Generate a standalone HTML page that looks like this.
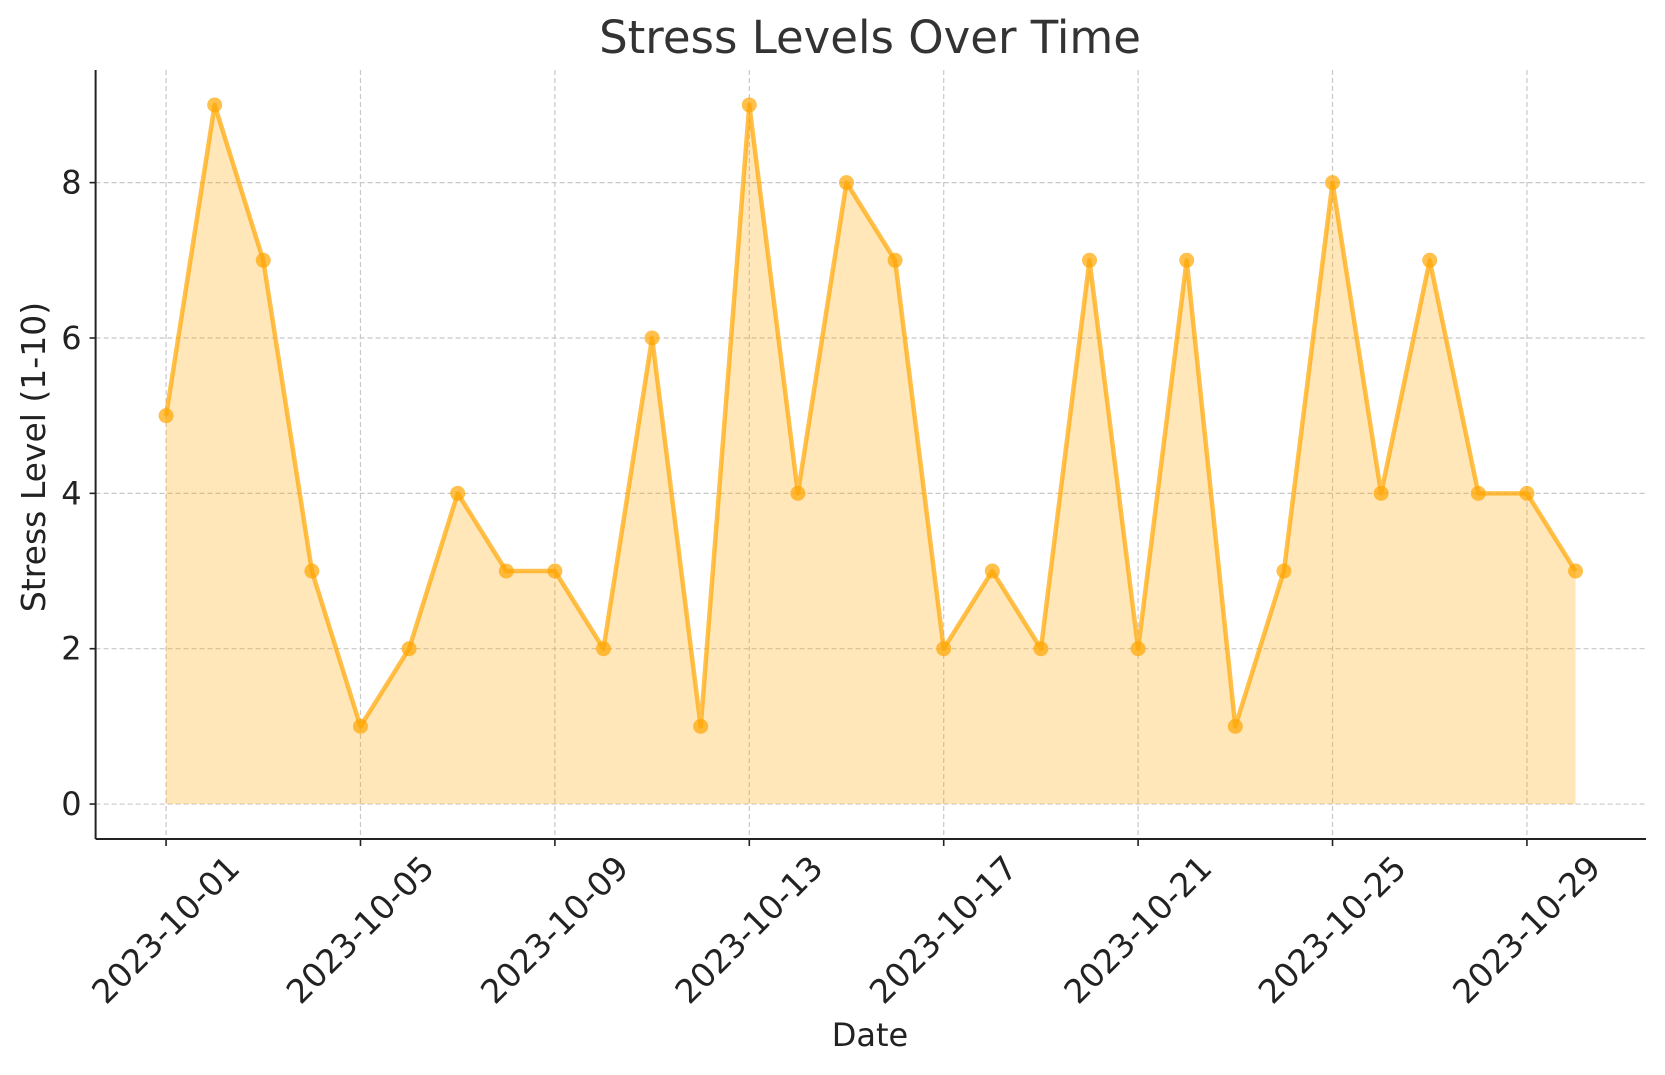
<!DOCTYPE html>
<html><head><meta charset="utf-8"><style>
html,body{margin:0;padding:0;background:#fff;}
svg{display:block;font-family:"DejaVu Sans","Liberation Sans",sans-serif;}
</style></head><body>
<svg id="chart" width="1665" height="1075" viewBox="0 0 1665 1075">
<text x="870" y="53" font-size="45" fill="#333" text-anchor="middle">Stress Levels Over Time</text>
<g id="grid"></g>
<g id="series"></g>
<g id="axes"></g>
<text x="870" y="1046" font-size="32" fill="#222" text-anchor="middle">Date</text>
<text transform="translate(45,457) rotate(-90)" font-size="33" fill="#222" text-anchor="middle">Stress Level (1-10)</text>
</svg>
<script>
const dates = ["2023-10-01","2023-10-02","2023-10-03","2023-10-04","2023-10-05","2023-10-06","2023-10-07","2023-10-08","2023-10-09","2023-10-10","2023-10-11","2023-10-12","2023-10-13","2023-10-14","2023-10-15","2023-10-16","2023-10-17","2023-10-18","2023-10-19","2023-10-20","2023-10-21","2023-10-22","2023-10-23","2023-10-24","2023-10-25","2023-10-26","2023-10-27","2023-10-28","2023-10-29","2023-10-30"];
const stress = [5,9,7,3,1,2,4,3,3,2,6,1,9,4,8,7,2,3,2,7,2,7,1,3,8,4,7,4,4,3];
const xTickLabels = ["2023-10-01","2023-10-05","2023-10-09","2023-10-13","2023-10-17","2023-10-21","2023-10-25","2023-10-29"];
const yTicks = [0,2,4,6,8];

const NS="http://www.w3.org/2000/svg";
const L=95.6,R=1646,T=70,B=839;
const xMin=-1.45,xMax=dates.length-1+1.45,yMin=-0.45,yMax=9.45;
const t0=new Date(dates[0]+"T00:00:00Z").getTime();
function dayIdx(d){return (new Date(d+"T00:00:00Z").getTime()-t0)/86400000;}
function xs(i){return L+(i-xMin)/(xMax-xMin)*(R-L);}
function ys(v){return B-(v-yMin)/(yMax-yMin)*(B-T);}
function mk(tag,attrs,parent){const e=document.createElementNS(NS,tag);for(const k in attrs)e.setAttribute(k,attrs[k]);parent.appendChild(e);return e;}
const grid=document.getElementById('grid'),series=document.getElementById('series'),axes=document.getElementById('axes');

yTicks.forEach(v=>{
  const g=mk('line',{x1:L,x2:R,y1:ys(v),y2:ys(v),stroke:'#c8c8c8','stroke-width':1.2,'stroke-dasharray':'5,3'},grid);
  
  
  const tk=mk('line',{x1:L-6,x2:L,y1:ys(v),y2:ys(v),stroke:'#222','stroke-width':1.6},axes);
  
  
  const t=mk('text',{x:L-14,y:ys(v)+11,'font-size':32,fill:'#222','text-anchor':'end'},axes);
  t.textContent=v;
  
  
});
xTickLabels.forEach(d=>{
  const x=xs(dayIdx(d));
  const g=mk('line',{x1:x,x2:x,y1:T,y2:B,stroke:'#c8c8c8','stroke-width':1.2,'stroke-dasharray':'5,3'},grid);
  
  
  const tk=mk('line',{x1:x,x2:x,y1:B,y2:B+7,stroke:'#222','stroke-width':1.6},axes);
  
  
  const t=mk('text',{x:0,y:11,'font-size':33,fill:'#222','text-anchor':'middle',transform:`translate(${x},930) rotate(-45)`},axes);
  t.textContent=d;
  
  
});
let pts=stress.map((v,i)=>[xs(dayIdx(dates[i])),ys(v)]);
let area=`M${pts[0][0]},${ys(0)} `+pts.map(p=>`L${p[0]},${p[1]}`).join(' ')+` L${pts[pts.length-1][0]},${ys(0)} Z`;
const a=mk('path',{d:area,fill:'#ffa500','fill-opacity':0.27},series);


const ln=mk('polyline',{points:pts.map(p=>p.join(',')).join(' '),fill:'none',stroke:'#ffa500','stroke-opacity':0.7,'stroke-width':4.5,'stroke-linejoin':'round'},series);


pts.forEach(p=>{
  const c=mk('circle',{cx:p[0],cy:p[1],r:7.5,fill:'#ffa500','fill-opacity':0.7},series);
  
  
});
const ya=mk('line',{x1:L,x2:L,y1:T,y2:B,stroke:'#222','stroke-width':2},axes);


const xa=mk('line',{x1:L,x2:R,y1:B,y2:B,stroke:'#222','stroke-width':2},axes);


</script>
</body></html>
